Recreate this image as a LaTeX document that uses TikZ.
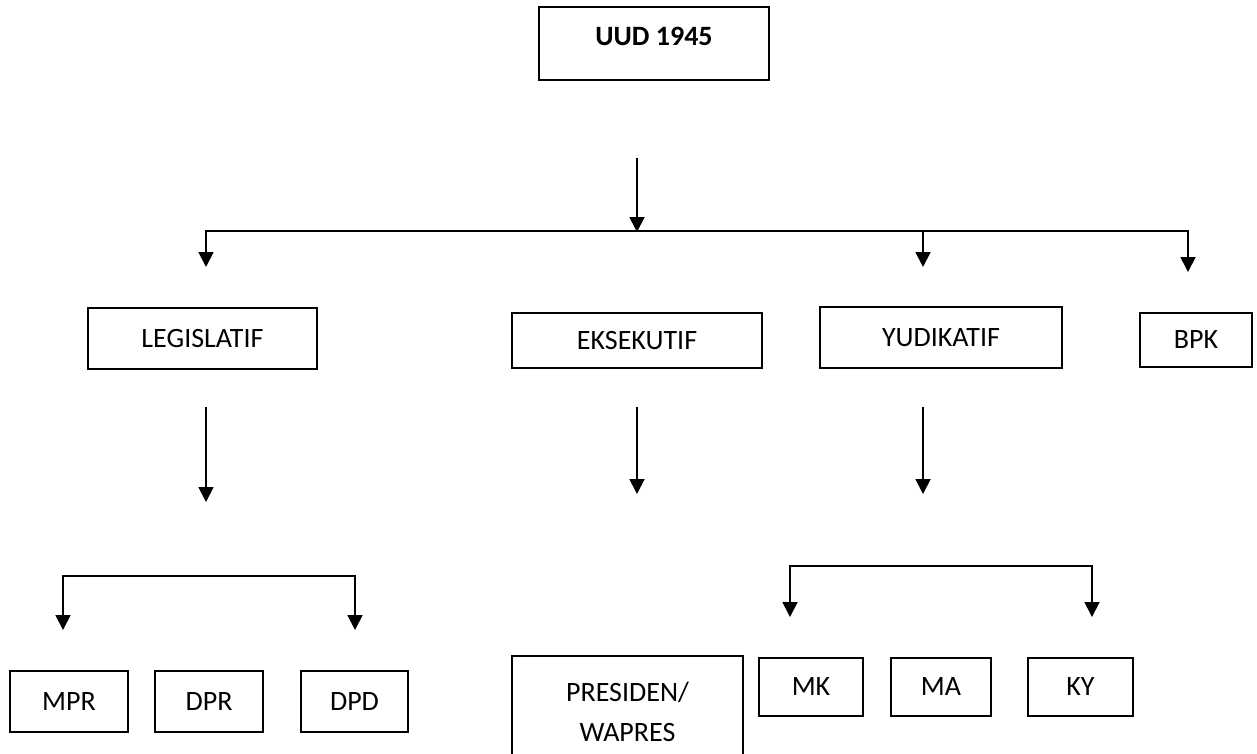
\documentclass[tikz,border=0pt]{standalone}
\usepackage{fontspec}
\setmainfont{Carlito}
\usetikzlibrary{arrows.meta}
\begin{document}
\begin{tikzpicture}[x=1pt,y=-1pt,
  box/.style={draw, line width=1.7pt, inner sep=0pt, font=\fontsize{28}{40}\selectfont, align=center},
  conn/.style={line width=1.8pt, line cap=rect},
  arr/.style={line width=1.8pt, -{Triangle[width=15pt,length=15pt]}}]
\useasboundingbox (0,0) rectangle (1257,753);
% boxes
\node[box, minimum width=230, minimum height=73, text depth=14pt, font=\fontsize{28}{40}\selectfont\bfseries] (uud) at (654,43.5) {UUD 1945};
\node[box, minimum width=229, minimum height=61] (leg) at (202.5,338.5) {LEGISLATIF};
\node[box, minimum width=250, minimum height=55] (eks) at (637,340.5) {EKSEKUTIF};
\node[box, minimum width=242, minimum height=61] (yud) at (941,337.5) {YUDIKATIF};
\node[box, minimum width=112, minimum height=54] (bpk) at (1196,340) {BPK};
\node[box, minimum width=118, minimum height=61] (mpr) at (69,701.5) {MPR};
\node[box, minimum width=108, minimum height=61] (dpr) at (209,701.5) {DPR};
\node[box, minimum width=107, minimum height=61] (dpd) at (354.5,701.5) {DPD};
\node[box, minimum width=231, minimum height=112] (pres) at (627.5,712) {PRESIDEN/\\WAPRES};
\node[box, minimum width=104, minimum height=58] (mk) at (811,687) {MK};
\node[box, minimum width=100, minimum height=58] (ma) at (941,687) {MA};
\node[box, minimum width=105, minimum height=58] (ky) at (1080.5,687) {KY};
% connector points
\coordinate (m0) at (637,158);
\coordinate (m1) at (637,232);
\coordinate (hl) at (206,231);
\coordinate (hy) at (923,231);
\coordinate (hr) at (1188,231);
\coordinate (tl) at (206,267);
\coordinate (ty) at (923,267);
\coordinate (tr) at (1188,272);
\coordinate (l0) at (206,407);
\coordinate (l1) at (206,502);
\coordinate (e0) at (637,407);
\coordinate (e1) at (637,494);
\coordinate (y0) at (923,407);
\coordinate (y1) at (923,494);
\coordinate (bl1) at (63,576);
\coordinate (bl2) at (355,576);
\coordinate (bl1t) at (63,630);
\coordinate (bl2t) at (355,630);
\coordinate (by1) at (790,566);
\coordinate (by2) at (1092,566);
\coordinate (by1t) at (790,617);
\coordinate (by2t) at (1092,617);
% connectors
\draw[arr] (m0) -- (m1);
\draw[conn] (hl) -- (hr);
\draw[arr] (hl) -- (tl);
\draw[arr] (hy) -- (ty);
\draw[arr] (hr) -- (tr);
\draw[arr] (l0) -- (l1);
\draw[arr] (e0) -- (e1);
\draw[arr] (y0) -- (y1);
\draw[conn] (bl1) -- (bl2);
\draw[arr] (bl1) -- (bl1t);
\draw[arr] (bl2) -- (bl2t);
\draw[conn] (by1) -- (by2);
\draw[arr] (by1) -- (by1t);
\draw[arr] (by2) -- (by2t);
\end{tikzpicture}
\end{document}
